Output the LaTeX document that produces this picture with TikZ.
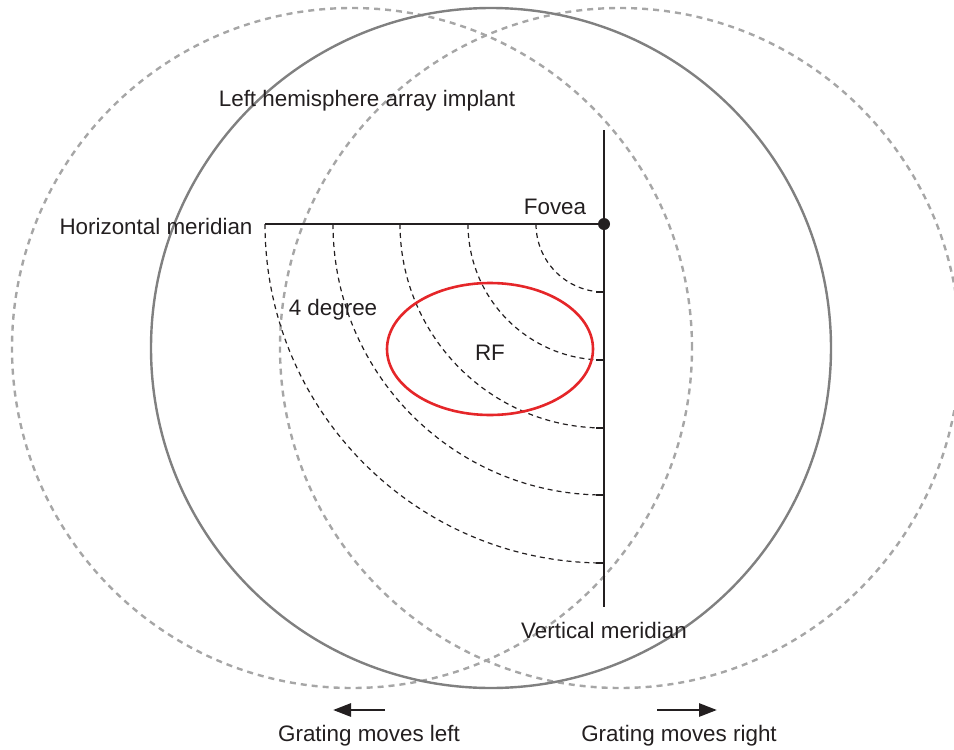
\documentclass[tikz,border=0pt]{standalone}
\usepackage{fontspec}
\setmainfont{Liberation Sans}
\usetikzlibrary{arrows.meta}
\definecolor{inkblack}{HTML}{231F20}
\definecolor{rimgray}{HTML}{808080}
\definecolor{ghostgray}{HTML}{A6A6A6}
\definecolor{rfred}{HTML}{E52629}
\tikzset{
  rim/.style={draw=rimgray, line width=2.4pt},
  ghost/.style={draw=ghostgray, line width=2.4pt, dash pattern=on 6pt off 5pt},
  meridian/.style={draw=inkblack, line width=2.8pt},
  eccen/.style={draw=inkblack, line width=1.2pt, dash pattern=on 5pt off 4pt},
  tick/.style={draw=inkblack, line width=1.2pt},
  label/.style={font=\fontsize{22.4}{26}\selectfont, text=inkblack, inner sep=0pt, anchor=base},
  motion/.style={draw=inkblack, line width=2.8pt, -{Triangle[length=18pt, width=13pt]}},
}
\begin{document}
\begin{tikzpicture}[x=1pt, y=-1pt]
\useasboundingbox (0,0) rectangle (954,750);

% array field: centred and displaced positions
\draw[ghost] (352,348) circle (340pt);
\draw[ghost] (620,348) circle (340pt);
\draw[rim] (491,348) circle (340pt);

% meridians and fovea
\coordinate (fovea) at (604,224);
\coordinate (hmEnd) at (265,224);
\coordinate (vmTop) at (604,130);
\coordinate (vmBot) at (604,607);
\draw[meridian] (hmEnd) -- (fovea);
\draw[meridian] (vmTop) -- (vmBot);
\fill[inkblack] (fovea) circle (6pt);

% iso-eccentricity arcs with ticks on the vertical meridian
\foreach \r in {68,136,204,271,339} {
  \draw[eccen] ([xshift=-\r pt]fovea) arc[start angle=180, end angle=270, radius=\r pt];
  \draw[tick] ([yshift=-\r pt]fovea) -- ([xshift=-8pt, yshift=-\r pt]fovea);
}

% receptive field
\draw[rfred, line width=2.6pt] (490,349) ellipse (103pt and 66pt);

% labels
\node[label] (lhemi) at (367,106) {Left hemisphere array implant};
\node[label] (hmer) at (156,234) {Horizontal meridian};
\node[label] (fov) at (555,214) {Fovea};
\node[label] (deg) at (333,315) {4 degree};
\node[label] (rf) at (490,360) {RF};
\node[label] (vmer) at (604,638) {Vertical meridian};
\node[label] (gleft) at (369,741) {Grating moves left};
\node[label] (gright) at (679,741) {Grating moves right};

% motion arrows
\coordinate (la1) at (385,710);
\coordinate (la2) at (333,710);
\coordinate (ra1) at (657,710);
\coordinate (ra2) at (717,710);
\draw[motion] (la1) -- (la2);
\draw[motion] (ra1) -- (ra2);
\end{tikzpicture}
\end{document}
